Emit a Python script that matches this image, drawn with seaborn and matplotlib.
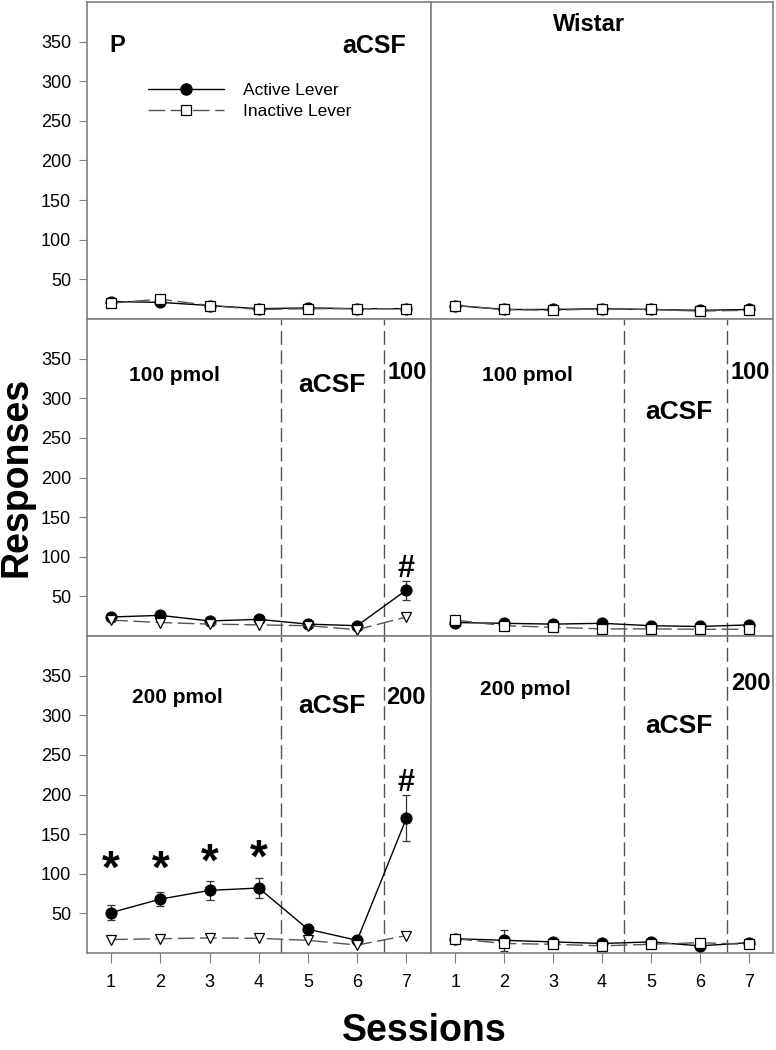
import matplotlib
matplotlib.use("Agg")
import matplotlib.pyplot as plt
from matplotlib.lines import Line2D
import seaborn as sns

### Lever responses for P and Wistar rats, 3 x 2 panel figure

sessions = [1, 2, 3, 4, 5, 6, 7]

# top row: aCSF only
p_acsf_active = [22, 21, 17, 13, 14, 13, 13]
p_acsf_inactive = [20, 25, 17, 12, 13, 13, 13]
w_acsf_active = [17, 12, 12, 13, 12, 11, 12]
w_acsf_inactive = [17, 12, 11, 13, 12, 10, 11]

# middle row: 100 pmol
p_100_active = [24, 26, 19, 21, 15, 13, 58]
p_100_active_err = [2, 3, 2, 3, 2, 1, 12]
p_100_inactive = [20, 17, 15, 14, 13, 8, 24]
w_100_active = [17, 16, 15, 16, 13, 12, 14]
w_100_inactive = [20, 13, 11, 9, 9, 8.5, 8.5]

# bottom row: 200 pmol
p_200_active = [51, 68, 79, 82, 30, 16, 170]
p_200_active_err = [9, 9, 12, 13, 3, 2, 29]
p_200_inactive = [17, 18, 19, 18.5, 16, 10, 22]
w_200_active = [18, 16, 14, 12, 14, 9, 13]
w_200_active_err = [2, 13, 2, 2, 2, 2, 2]
w_200_inactive = [18, 12, 11, 9, 11, 13, 11]

# significance marks
star_sessions = [1, 2, 3, 4]
star_heights = [104, 104, 113, 118]
hash_100 = (7, 84)
hash_200 = (7, 214)

phase_bounds = [4.45, 6.55]
y_ticks = [50, 100, 150, 200, 250, 300, 350]

sns.set_style("ticks")
plt.rcParams['font.family'] = ['Liberation Sans', 'DejaVu Sans']
plt.rcParams['text.color'] = 'black'

GRAY = '#808080'
DASH = (0, (12, 4))

fig = plt.figure(figsize=(7.76, 10.5), dpi=100)

col_left = [86.5 / 776, 431 / 776]
col_width = [344.5 / 776, 342 / 776]
row_bottom = [1 - 319 / 1050, 1 - 636 / 1050, 1 - 953 / 1050]
row_h = 317 / 1050


def draw_panel(ax, active, inactive, inactive_marker, active_err=None, row=0, col=0):
    if active_err is not None:
        ax.errorbar(sessions, active, yerr=active_err, fmt='none', ecolor='#333333',
                    elinewidth=0.9, capsize=3, capthick=0.9, zorder=2)
    sns.lineplot(x=sessions, y=active, ax=ax, color='black', lw=1, marker='o',
                 markersize=8, markeredgecolor='black', markerfacecolor='black', zorder=3)
    sns.lineplot(x=sessions, y=inactive, ax=ax, color='#555555', lw=1, linestyle=DASH,
                 marker=inactive_marker, markersize=7.5, markeredgecolor='black',
                 markerfacecolor='white', markeredgewidth=0.9, zorder=4)
    if row > 0:
        for b in phase_bounds:
            ax.axvline(b, color='#555555', lw=1, linestyle=(0, (10, 4)), zorder=1)
    ax.set_xlim(0.5, 7.5)
    ax.set_ylim(0, 400)
    ax.set_xlabel('')
    ax.set_ylabel('')
    for s in ax.spines.values():
        s.set_color(GRAY)
        s.set_linewidth(1.2)
    ax.tick_params(colors=GRAY, labelcolor='black', labelsize=13)
    ax.set_yticks(y_ticks)
    ax.set_xticks(sessions)
    if col == 0:
        ax.tick_params(axis='y', length=6, pad=5)
    else:
        ax.tick_params(axis='y', left=False, labelleft=False)
    if row == 2:
        ax.tick_params(axis='x', length=7, pad=8)
    else:
        ax.tick_params(axis='x', bottom=False, labelbottom=False)


axes = [[fig.add_axes([col_left[c], row_bottom[r], col_width[c], row_h]) for c in range(2)]
        for r in range(3)]

draw_panel(axes[0][0], p_acsf_active, p_acsf_inactive, 's', row=0, col=0)
draw_panel(axes[0][1], w_acsf_active, w_acsf_inactive, 's', row=0, col=1)
draw_panel(axes[1][0], p_100_active, p_100_inactive, 'v', p_100_active_err, row=1, col=0)
draw_panel(axes[1][1], w_100_active, w_100_inactive, 's', row=1, col=1)
draw_panel(axes[2][0], p_200_active, p_200_inactive, 'v', p_200_active_err, row=2, col=0)
draw_panel(axes[2][1], w_200_active, w_200_inactive, 's', w_200_active_err, row=2, col=1)

bold = dict(weight='bold', ha='center', va='center')

# top row labels
axes[0][0].text(1.13, 345, 'P', fontsize=17, **bold)
axes[0][0].text(6.35, 345, 'aCSF', fontsize=18, **bold)
axes[0][1].text(3.74, 372, 'Wistar', fontsize=17, **bold)

# middle row labels
axes[1][0].text(2.29, 329, '100 pmol', fontsize=15, **bold)
axes[1][0].text(5.48, 317, 'aCSF', fontsize=19, **bold)
axes[1][0].text(7.02, 333, '100', fontsize=17, **bold)
axes[1][1].text(2.47, 329, '100 pmol', fontsize=15, **bold)
axes[1][1].text(5.57, 283, 'aCSF', fontsize=19, **bold)
axes[1][1].text(7.04, 333, '100', fontsize=17, **bold)

# bottom row labels
axes[2][0].text(2.35, 323, '200 pmol', fontsize=15, **bold)
axes[2][0].text(5.48, 312, 'aCSF', fontsize=19, **bold)
axes[2][0].text(6.98, 322, '200', fontsize=17, **bold)
axes[2][1].text(2.43, 332, '200 pmol', fontsize=15, **bold)
axes[2][1].text(5.57, 287, 'aCSF', fontsize=19, **bold)
axes[2][1].text(7.04, 340, '200', fontsize=17, **bold)

for s, h in zip(star_sessions, star_heights):
    axes[2][0].text(s, h, '*', fontsize=33, **bold)
axes[1][0].text(hash_100[0], hash_100[1], '#', fontsize=22, **bold)
axes[2][0].text(hash_200[0], hash_200[1], '#', fontsize=22, **bold)

handles = [
    Line2D([], [], color='black', lw=1, marker='o', markersize=8, markerfacecolor='black'),
    Line2D([], [], color='#555555', lw=1, linestyle=DASH, marker='s', markersize=7.5,
           markerfacecolor='white', markeredgecolor='black', markeredgewidth=0.9),
]
axes[0][0].legend(handles, ['Active Lever', 'Inactive Lever'], loc='upper left',
                  bbox_to_anchor=(0.1785, 0.744), frameon=False, fontsize=12.5,
                  handlelength=4.4, handletextpad=1.1, labelspacing=0.3,
                  borderpad=0, borderaxespad=0)

fig.text(17 / 776, 1 - 477 / 1050, 'Responses', rotation=90, fontsize=27, **bold)
fig.text(424 / 776, 1 - 1031 / 1050, 'Sessions', fontsize=27, **bold)

fig.savefig('out.png', dpi=100)
